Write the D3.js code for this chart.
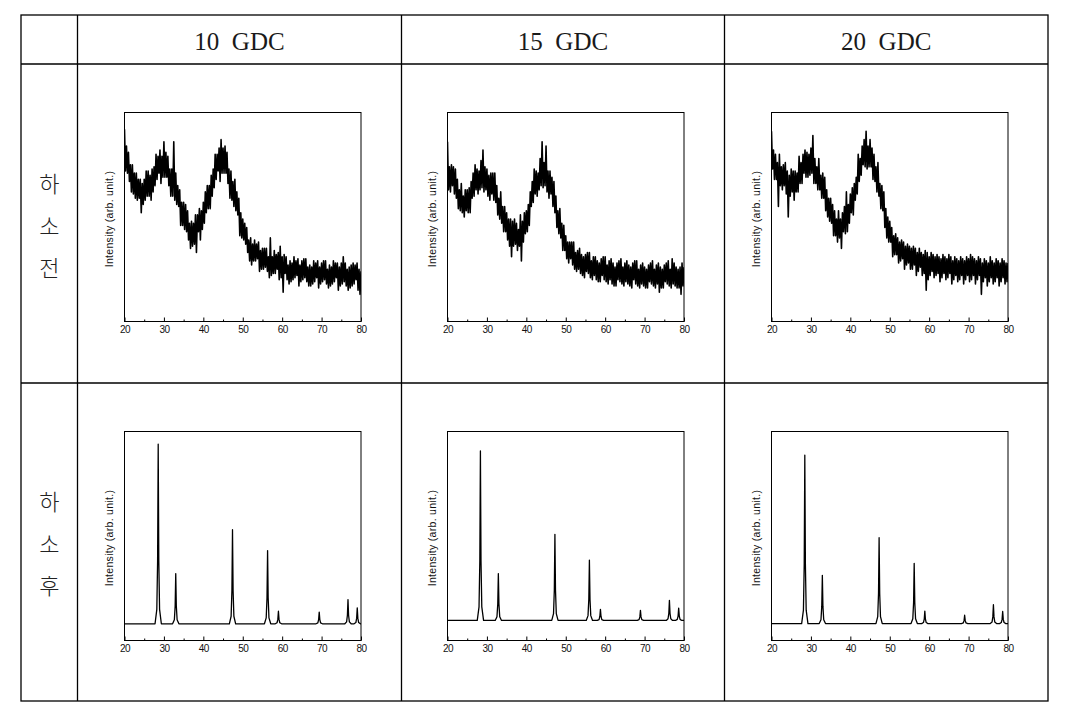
<!DOCTYPE html>
<html><head><meta charset="utf-8">
<script src="https://cdn.jsdelivr.net/npm/d3@7/dist/d3.min.js"></script>
<style>body{margin:0;background:#fff}svg{display:block}</style>
</head><body>
<script>
// ---------- data ----------
const samples = ["10  GDC", "15  GDC", "20  GDC"];
const rowLabels = [["하", "소", "전"], ["하", "소", "후"]];
const xTicks = [20, 30, 40, 50, 60, 70, 80];
const xMinorTicks = [25, 35, 45, 55, 65, 75];
const yLabel = "Intensity (arb. unit.)";
const xDomain = [20, 80];
const yDomain = [0, 100];
const scanStart = 20, scanStep = 0.25; // 2θ grid of the as-prepared scans

// as-prepared (before calcination) intensities, 2θ = 20..80 step 0.25
const asp10 = [
  92,72,84,71, 81,67,75,62, 75,61,71,59, 71,58,68,59, 68,52,66,56,
  68,58,72,60, 72,60,70,58, 73,62,74,65, 80,68,79,71, 82,66,79,69,
  86,69,81,69, 79,65,73,60, 73,60,86,58, 71,56,65,55, 63,46,57,46,
  57,44,56,43, 53,39,47,35, 48,36,47,37, 51,33,51,43, 54,39,53,44,
  57,47,62,52, 65,54,65,54, 70,60,73,64, 80,68,80,72, 83,67,87,71,
  83,71,84,71, 81,66,73,59, 72,58,67,55, 68,53,62,51, 59,41,52,40,
  49,39,47,37, 45,33,39,29, 40,27,37,29, 39,29,37,30, 38,24,34,25,
  35,25,35,26, 35,24,31,21, 40,22,31,23, 34,23,32,25, 33,20,36,21,
  31,14,32,23, 31,20,27,18, 29,19,28,20, 31,21,29,22, 30,17,27,19,
  29,20,30,21, 30,19,26,17, 27,17,26,18, 29,19,28,21, 29,16,26,18,
  28,19,29,20, 29,18,25,16, 27,17,26,18, 29,19,28,21, 28,15,26,17,
  28,18,31,19, 28,17,25,15, 26,16,27,17, 28,18,27,20, 28,15,25,13,
  24];
const asp15 = [
  86,63,74,62, 75,65,74,61, 73,59,68,54, 63,53,66,52, 60,50,63,53,
  63,52,64,52, 67,59,71,60, 75,63,73,61, 72,63,77,64, 82,62,74,63,
  73,60,70,58, 71,61,71,58, 71,57,65,51, 59,49,62,47, 55,43,55,43,
  52,39,49,36, 49,31,48,36, 49,37,47,34, 44,36,51,29, 48,38,52,42,
  53,43,56,46, 62,55,67,57, 73,61,72,60, 71,63,78,65, 86,64,76,65,
  84,62,72,59, 72,61,69,55, 67,52,60,45, 53,42,54,40, 47,34,46,34,
  41,30,38,28, 38,30,38,27, 38,25,33,24, 34,25,35,23, 32,22,31,21,
  32,24,33,23, 33,21,29,20, 31,22,31,20, 29,19,28,19, 30,22,31,20,
  31,19,27,18, 29,20,30,18, 28,17,26,17, 28,20,29,19, 30,18,26,17,
  28,19,29,18, 27,17,26,16, 28,20,29,18, 29,17,25,16, 27,18,28,17,
  26,16,25,16, 27,19,28,18, 29,17,25,16, 27,18,28,14, 26,16,25,16,
  27,19,28,18, 29,17,25,16, 30,18,28,17, 26,16,25,16, 26,13,28,17,
  26];
const asp20 = [
  91,73,82,68, 80,68,76,55, 80,65,74,63, 75,65,76,61, 72,50,70,60,
  73,62,72,58, 72,62,71,62, 79,66,76,66, 80,71,82,69, 81,69,80,70,
  83,71,89,66, 78,66,74,63, 78,63,70,59, 71,59,69,53, 63,50,59,48,
  59,47,56,41, 53,41,49,38, 53,40,49,35, 52,43,55,42, 62,43,56,47,
  61,52,64,51, 66,58,69,61, 80,67,78,70, 84,75,87,74, 91,73,84,74,
  87,74,83,68, 80,67,74,62, 76,60,66,54, 65,53,62,45, 54,40,50,38,
  48,38,45,31, 41,32,42,32, 40,28,38,29, 39,30,38,25, 36,27,37,28,
  36,25,35,25, 36,27,35,22, 33,24,35,26, 33,22,32,23, 34,15,33,20,
  31,22,33,24, 32,21,31,22, 32,23,31,19, 30,21,32,23, 31,20,30,21,
  32,23,31,18, 29,20,31,22, 30,19,29,20, 31,22,30,18, 29,20,31,22,
  30,19,32,20, 31,22,30,18, 29,20,31,22, 30,13,28,19, 30,21,29,17,
  28,19,31,21, 29,18,28,19, 30,21,29,17, 28,19,30,21, 29,18,28,19,
  28];

// calcined: [2θ, intensity]
const calc10 = [[20,8],
  [27.75,8],[28.2,14.9],[28.4,38.1],[28.55,94],[28.7,38.1],[28.9,14.9],[29.35,8],
  [32.2,8],[32.65,9.9],[32.85,16.4],[33.0,32],[33.15,16.4],[33.35,9.9],[33.8,8],
  [46.6,8],[47.05,11.6],[47.25,23.8],[47.4,53],[47.55,23.8],[47.75,11.6],[48.2,8],
  [55.5,8],[55.95,10.8],[56.15,20.3],[56.3,43],[56.45,20.3],[56.65,10.8],[57.1,8],
  [58.25,8],[58.7,8.5],[58.9,10.1],[59.05,14],[59.2,10.1],[59.4,8.5],[59.85,8],
  [68.6,8],[69.05,8.4],[69.25,10],[69.4,13.6],[69.55,10],[69.75,8.4],[70.2,8],
  [75.9,8],[76.35,8.9],[76.55,12.1],[76.7,19.6],[76.85,12.1],[77.05,8.9],[77.5,8],
  [78.25,8],[78.7,8.6],[78.9,10.7],[79.05,15.6],[79.2,10.7],[79.4,8.6],[79.85,8],
  [80,8]];
const calc15 = [[20,9.6],
  [27.55,9.6],[28.0,16.1],[28.2,38],[28.35,90.7],[28.5,38],[28.7,16.1],[29.15,9.6],
  [32.1,9.6],[32.55,11.4],[32.75,17.4],[32.9,32],[33.05,17.4],[33.25,11.4],[33.7,9.6],
  [46.45,9.6],[46.9,12.9],[47.1,24],[47.25,50.8],[47.4,24],[47.6,12.9],[48.05,9.6],
  [55.2,9.6],[55.65,11.9],[55.85,19.7],[56.0,38.5],[56.15,19.7],[56.35,11.9],[56.8,9.6],
  [58.0,9.6],[58.45,10],[58.65,11.5],[58.8,14.9],[58.95,11.5],[59.15,10],[59.6,9.6],
  [68.15,9.6],[68.6,10],[68.8,11.3],[68.95,14.4],[69.1,11.3],[69.3,10],[69.75,9.6],
  [75.5,9.6],[75.95,10.4],[76.15,13],[76.3,19.2],[76.45,13],[76.65,10.4],[77.1,9.6],
  [77.85,9.6],[78.3,10.1],[78.5,11.7],[78.65,15.5],[78.8,11.7],[79.0,10.1],[79.45,9.6],
  [80,9.6]];
const calc20 = [[20,8.1],
  [27.65,8.1],[28.1,14.5],[28.3,36.3],[28.45,88.7],[28.6,36.3],[28.8,14.5],[29.25,8.1],
  [32.1,8.1],[32.55,9.9],[32.75,16.2],[32.9,31.2],[33.05,16.2],[33.25,9.9],[33.7,8.1],
  [46.5,8.1],[46.95,11.4],[47.15,22.5],[47.3,49.2],[47.45,22.5],[47.65,11.4],[48.1,8.1],
  [55.4,8.1],[55.85,10.4],[56.05,18.2],[56.2,36.9],[56.35,18.2],[56.55,10.4],[57.0,8.1],
  [58.1,8.1],[58.55,8.6],[58.75,10.2],[58.9,14.1],[59.05,10.2],[59.25,8.6],[59.7,8.1],
  [68.2,8.1],[68.65,8.4],[68.85,9.5],[69.0,12.1],[69.15,9.5],[69.35,8.4],[69.8,8.1],
  [75.5,8.1],[75.95,8.8],[76.15,11.3],[76.3,17.1],[76.45,11.3],[76.65,8.8],[77.1,8.1],
  [77.85,8.1],[78.3,8.6],[78.5,10.1],[78.65,13.9],[78.8,10.1],[79.0,8.6],[79.45,8.1],
  [80,8.1]];

const asPrepared = [asp10, asp15, asp20];
const calcined = [calc10, calc15, calc20];

// ---------- layout ----------
const W = 1072, H = 713;
const colX = [21, 77.5, 401.5, 724.5, 1048];
const rowY = [15, 64, 383, 701];
const plotLeft = [124.5, 447.5, 771.5];
const plotW = 236.5, plotH = 209;
const plotTop = [112.5, 431.5];

const svg = d3.select("body").append("svg").attr("width", W).attr("height", H);

// table grid
const grid = svg.append("g").attr("stroke", "#000").attr("stroke-width", 1.3).attr("fill", "none");
grid.append("rect").attr("x", colX[0]).attr("y", rowY[0])
  .attr("width", colX[4] - colX[0]).attr("height", rowY[3] - rowY[0]);
colX.slice(1, 4).forEach(x => grid.append("line").attr("x1", x).attr("x2", x).attr("y1", rowY[0]).attr("y2", rowY[3]));
rowY.slice(1, 3).forEach(y => grid.append("line").attr("x1", colX[0]).attr("x2", colX[4]).attr("y1", y).attr("y2", y));

// header
samples.forEach((s, i) => {
  svg.append("text")
    .attr("x", (colX[i + 1] + colX[i + 2]) / 2).attr("y", 49.5)
    .attr("text-anchor", "middle")
    .style("font-family", "'Liberation Serif','DejaVu Serif',serif")
    .style("font-size", "25px").style("white-space", "pre").attr("fill", "#1a1a1a")
    .text(s);
});

// row labels
rowLabels.forEach((chars, r) => {
  const cy = (rowY[r + 1] + rowY[r + 2]) / 2;
  chars.forEach((c, k) => {
    svg.append("text")
      .attr("x", (colX[0] + colX[1]) / 2).attr("y", cy + (k - 1) * 42)
      .attr("text-anchor", "middle").attr("dominant-baseline", "central")
      .style("font-family", "'Noto Sans CJK KR','Noto Sans CJK SC',sans-serif")
      .style("font-size", "22px").style("font-weight", 300).attr("fill", "#222")
      .text(c);
  });
});

const x = d3.scaleLinear().domain(xDomain).range([0, plotW]);
const y = d3.scaleLinear().domain(yDomain).range([plotH, 0]);
const line = d3.line().x(d => x(d[0])).y(d => y(d[1]));

function drawPlot(left, top, data, sw) {
  const g = svg.append("g").attr("transform", `translate(${left},${top})`);
  g.append("defs").append("clipPath").attr("id", `c${left}${top}`)
    .append("rect").attr("width", plotW).attr("height", plotH);
  g.append("path").datum(data).attr("d", line)
    .attr("clip-path", `url(#c${left}${top})`)
    .attr("fill", "none").attr("stroke", "#000").attr("stroke-width", sw)
    .attr("stroke-linejoin", "round");
  g.append("rect").attr("width", plotW).attr("height", plotH)
    .attr("fill", "none").attr("stroke", "#000").attr("stroke-width", 1);
  const ax = g.append("g").attr("transform", `translate(0,${plotH})`)
    .call(d3.axisBottom(x).tickValues(xTicks).tickSizeInner(-4).tickSizeOuter(0).tickPadding(4).tickFormat(d3.format("d")));
  ax.select(".domain").remove();
  ax.selectAll("text").style("font-family", "'Liberation Sans',Arial,sans-serif")
    .style("font-size", "10px").style("letter-spacing", "-0.6px").attr("fill", "#111");
  const mx = g.append("g").attr("transform", `translate(0,${plotH})`)
    .call(d3.axisBottom(x).tickValues(xMinorTicks).tickSizeInner(-2).tickSizeOuter(0).tickFormat(""));
  mx.select(".domain").remove();
  g.append("text")
    .attr("transform", `translate(-12,${plotH / 2 + 2}) rotate(-90)`)
    .attr("text-anchor", "middle")
    .style("font-family", "'Liberation Sans',Arial,sans-serif")
    .style("font-size", "10.5px").style("letter-spacing", "0.3px").attr("fill", "#111")
    .text(yLabel);
}

asPrepared.forEach((vals, i) => {
  const pts = vals.map((v, k) => [scanStart + k * scanStep, v]);
  drawPlot(plotLeft[i], plotTop[0], pts, 1.6);
});
calcined.forEach((pts, i) => drawPlot(plotLeft[i], plotTop[1], pts, 1.3));
</script>
</body></html>
